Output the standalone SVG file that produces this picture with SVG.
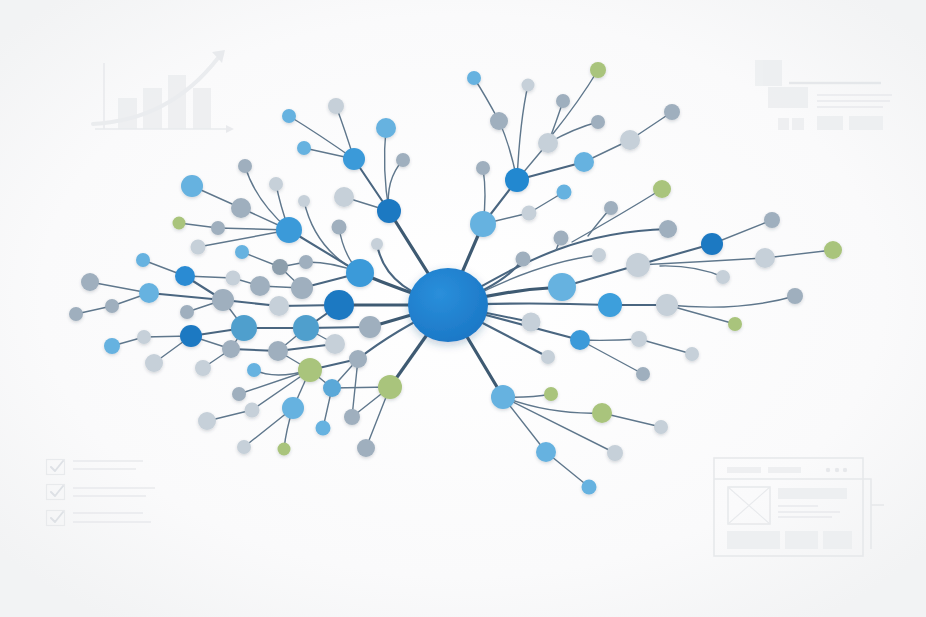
<svg xmlns="http://www.w3.org/2000/svg" width="926" height="617" viewBox="0 0 926 617">
<defs>
<radialGradient id="bg" cx="50%" cy="48%" r="65%">
<stop offset="0" stop-color="#ffffff"/>
<stop offset="0.7" stop-color="#fafafb"/>
<stop offset="1" stop-color="#f2f3f4"/>
</radialGradient>
<radialGradient id="hubg" cx="40%" cy="35%" r="70%">
<stop offset="0" stop-color="#2a8fdb"/>
<stop offset="1" stop-color="#1b77c6"/>
</radialGradient>
<filter id="sh" x="-50%" y="-50%" width="200%" height="200%">
<feDropShadow dx="0" dy="1.5" stdDeviation="1.6" flood-color="#3a4a5a" flood-opacity="0.2"/>
</filter>
<filter id="hsh" x="-50%" y="-50%" width="200%" height="200%">
<feDropShadow dx="0" dy="3" stdDeviation="4" flood-color="#1a4a7a" flood-opacity="0.28"/>
</filter>
<marker id="ah" viewBox="0 0 10 10" refX="5" refY="5" markerWidth="5" markerHeight="5" orient="auto">
<path d="M0 0 L10 5 L0 10 z" fill="#e6e8eb"/>
</marker>
</defs>
<style>
.e1{fill:none;stroke:#3e5a72;stroke-width:3.2;stroke-linecap:round}
.e2{fill:none;stroke:#4a6680;stroke-width:2.1;stroke-linecap:round}
.e3{fill:none;stroke:#5f778c;stroke-width:1.4;stroke-linecap:round}
.b1{fill:#3b9ad9}
.b2{fill:#1f79c2}
.lb{fill:#66b2e0}
.sb{fill:#4f9fcd}
.g1{fill:#9fafbe}
.dg{fill:#8d9eac}
.g2{fill:#c6d0d9}
.gn{fill:#a9c47b}
#nodes circle{filter:url(#sh)}
.dk{fill:#eceef0;stroke:none}
.dt{fill:none;stroke:#e6e8eb;stroke-width:1.6}
</style>
<rect width="926" height="617" fill="url(#bg)"/>

<g id="decor" opacity="0.85">
<g id="chart">
<rect class="dk" x="118" y="98" width="19" height="31"/>
<rect class="dk" x="143" y="88" width="19" height="41"/>
<rect class="dk" x="168" y="75" width="18" height="54"/>
<rect class="dk" x="193" y="88" width="18" height="41"/>
<path class="dt" d="M104 129 V63"/>
<path class="dt" d="M95 129 H230" marker-end="url(#ah)"/>
<path d="M93 124 Q170 120 218 58" fill="none" stroke="#e8eaed" stroke-width="4" stroke-linecap="round"/>
<path d="M212 52 L225 50 L222 63 z" fill="#e6e8eb"/>
</g>
<g id="layout">
<rect class="dk" x="755" y="60" width="27" height="26"/>
<rect class="dk" x="768" y="87" width="40" height="21"/>
<path d="M789 83 H881" stroke="#e2e5e8" stroke-width="2.5"/>
<path d="M817 95 H892 M817 101 H890 M817 107 H883" stroke="#e6e8eb" stroke-width="1.5"/>
<rect class="dk" x="778" y="118" width="11" height="12"/>
<rect class="dk" x="792" y="118" width="12" height="12"/>
<rect class="dk" x="817" y="116" width="26" height="14"/>
<rect class="dk" x="849" y="116" width="34" height="14"/>
</g>
<g id="checklist">
<rect x="46.5" y="459.5" width="18" height="15" fill="none" stroke="#e6e8eb" stroke-width="1.2"/>
<rect x="46.5" y="484.5" width="18" height="15" fill="none" stroke="#e6e8eb" stroke-width="1.2"/>
<rect x="46.5" y="510.5" width="18" height="15" fill="none" stroke="#e6e8eb" stroke-width="1.2"/>
<path d="M51 467 L55 471 L63 461 M51 492 L55 496 L63 486 M51 518 L55 522 L63 512" fill="none" stroke="#dadee3" stroke-width="2" stroke-linecap="round" stroke-linejoin="round"/>
<path d="M73 461 H143 M73 469 H136 M73 488 H155 M73 496 H146 M73 513 H143 M73 522 H151" stroke="#e6e8eb" stroke-width="1.3"/>
</g>
<g id="wireframe">
<rect x="714" y="458" width="149" height="98" fill="none" stroke="#e4e6e9" stroke-width="1.6"/>
<path d="M714 479 H871 V549 M871 505 H884" fill="none" stroke="#e4e6e9" stroke-width="1.6"/>
<rect class="dk" x="727" y="467" width="34" height="6"/>
<rect class="dk" x="768" y="467" width="33" height="6"/>
<circle cx="828" cy="470" r="2.2" fill="#e4e6e9"/>
<circle cx="837" cy="470" r="2.2" fill="#e4e6e9"/>
<circle cx="845" cy="470" r="2.2" fill="#e4e6e9"/>
<rect x="728" y="487" width="42" height="37" fill="none" stroke="#e4e6e9" stroke-width="1.5"/>
<path d="M728 487 L770 524 M770 487 L728 524" stroke="#e6e8eb" stroke-width="1.2"/>
<rect class="dk" x="778" y="488" width="69" height="11"/>
<path d="M778 506 H818 M778 512 H840 M778 517 H832" stroke="#e6e8eb" stroke-width="1.3"/>
<rect class="dk" x="727" y="531" width="53" height="18"/>
<rect class="dk" x="785" y="531" width="33" height="18"/>
<rect class="dk" x="823" y="531" width="29" height="18"/>
</g>
</g>

<g id="connectors">
<path class="e1" d="M448 305 L389 211"/>
<path class="e1" d="M448 305 Q400 290 360 273"/>
<path class="e1" d="M448 305 L339 305"/>
<path class="e1" d="M448 305 Q410 315 370 327"/>
<path class="e2" d="M448 305 Q395 330 358 359"/>
<path class="e1" d="M448 305 L390 387"/>
<path class="e1" d="M448 305 L483 224"/>
<path class="e1" d="M448 305 Q505 290 562 287"/>
<path class="e2" d="M448 305 Q530 302 610 305"/>
<path class="e2" d="M448 305 L531 322"/>
<path class="e2" d="M448 305 L580 340"/>
<path class="e2" d="M448 305 L548 357"/>
<path class="e1" d="M448 305 L503 397"/>
<path class="e2" d="M448 305 Q505 285 523 259"/>
<path class="e2" d="M448 305 C520 265 570 232 668 229"/>
<path class="e3" d="M588 236 Q600 220 611 208"/>
<path class="e3" d="M572 242 Q620 215 662 189"/>
<path class="e3" d="M556 250 L561 238"/>
<path class="e3" d="M470 298 Q540 262 599 255"/>
<path class="e2" d="M448 305 Q385 290 377 244"/>
<path class="e3" d="M339 227 Q343 255 360 273"/>
<path class="e3" d="M304 201 Q315 250 360 273"/>
<path class="e2" d="M289 230 L360 273"/>
<path class="e3" d="M306 262 Q335 262 360 273"/>
<path class="e2" d="M302 288 L360 273"/>
<path class="e3" d="M289 230 Q255 200 245 166"/>
<path class="e3" d="M289 230 Q280 205 276 184"/>
<path class="e3" d="M289 230 L241 208"/>
<path class="e3" d="M241 208 L192 186"/>
<path class="e3" d="M289 230 L218 228"/>
<path class="e3" d="M218 228 L179 223"/>
<path class="e3" d="M289 230 L198 247"/>
<path class="e3" d="M242 252 L280 267"/>
<path class="e3" d="M280 267 L306 262"/>
<path class="e3" d="M280 267 L302 288"/>
<path class="e3" d="M354 159 Q320 135 289 116"/>
<path class="e3" d="M354 159 L304 148"/>
<path class="e3" d="M354 159 Q345 130 336 106"/>
<path class="e2" d="M354 159 L389 211"/>
<path class="e3" d="M389 211 Q382 170 386 128"/>
<path class="e3" d="M389 211 Q385 180 403 160"/>
<path class="e3" d="M389 211 L344 197"/>
<path class="e3" d="M185 276 L143 260"/>
<path class="e3" d="M185 276 L233 278"/>
<path class="e3" d="M233 278 L260 286"/>
<path class="e3" d="M260 286 L302 288"/>
<path class="e2" d="M185 276 L223 300"/>
<path class="e3" d="M149 293 L90 282"/>
<path class="e3" d="M149 293 L112 306"/>
<path class="e3" d="M112 306 L76 314"/>
<path class="e2" d="M149 293 L223 300"/>
<path class="e3" d="M187 312 L223 300"/>
<path class="e2" d="M223 300 L279 306"/>
<path class="e2" d="M279 306 L339 305"/>
<path class="e3" d="M223 300 L244 328"/>
<path class="e2" d="M244 328 L191 336"/>
<path class="e2" d="M244 328 L306 328"/>
<path class="e3" d="M244 328 L231 349"/>
<path class="e3" d="M191 336 L144 337"/>
<path class="e3" d="M144 337 L112 346"/>
<path class="e3" d="M191 336 L154 363"/>
<path class="e3" d="M191 336 L231 349"/>
<path class="e3" d="M231 349 L203 368"/>
<path class="e2" d="M231 349 L278 351"/>
<path class="e3" d="M278 351 L306 328"/>
<path class="e2" d="M278 351 L335 344"/>
<path class="e3" d="M278 351 L310 370"/>
<path class="e2" d="M306 328 L339 305"/>
<path class="e2" d="M306 328 L370 327"/>
<path class="e3" d="M306 328 L335 344"/>
<path class="e3" d="M254 370 Q275 380 310 370"/>
<path class="e3" d="M310 370 L239 394"/>
<path class="e3" d="M310 370 L252 410"/>
<path class="e3" d="M252 410 L207 421"/>
<path class="e3" d="M310 370 L293 408"/>
<path class="e3" d="M310 370 L332 388"/>
<path class="e2" d="M310 370 L358 359"/>
<path class="e3" d="M332 388 L358 359"/>
<path class="e3" d="M332 388 L390 387"/>
<path class="e3" d="M332 388 L323 428"/>
<path class="e3" d="M293 408 L244 447"/>
<path class="e3" d="M293 408 Q286 430 284 449"/>
<path class="e3" d="M390 387 L352 417"/>
<path class="e3" d="M390 387 L366 448"/>
<path class="e3" d="M358 359 L352 417"/>
<path class="e2" d="M483 224 L517 180"/>
<path class="e3" d="M483 224 Q487 195 483 168"/>
<path class="e3" d="M483 224 L529 213"/>
<path class="e3" d="M529 213 L564 192"/>
<path class="e3" d="M517 180 Q510 145 499 121"/>
<path class="e3" d="M499 121 Q485 95 474 78"/>
<path class="e3" d="M517 180 Q520 120 528 85"/>
<path class="e3" d="M517 180 L548 143"/>
<path class="e3" d="M548 143 Q557 120 563 101"/>
<path class="e3" d="M548 143 Q575 128 598 122"/>
<path class="e3" d="M552 135 Q580 100 598 70"/>
<path class="e2" d="M517 180 L584 162"/>
<path class="e3" d="M584 162 L630 140"/>
<path class="e3" d="M630 140 L672 112"/>
<path class="e2" d="M562 287 L638 265"/>
<path class="e2" d="M638 265 L712 244"/>
<path class="e3" d="M712 244 L772 220"/>
<path class="e3" d="M638 265 Q700 262 765 258"/>
<path class="e3" d="M765 258 L833 250"/>
<path class="e3" d="M660 266 Q695 265 723 277"/>
<path class="e2" d="M610 305 L667 305"/>
<path class="e3" d="M667 305 Q740 312 795 296"/>
<path class="e3" d="M667 305 L735 324"/>
<path class="e3" d="M580 340 Q610 341 639 339"/>
<path class="e3" d="M639 339 L692 354"/>
<path class="e3" d="M580 340 L643 374"/>
<path class="e3" d="M503 397 Q530 398 551 394"/>
<path class="e3" d="M503 397 Q550 415 602 413"/>
<path class="e3" d="M602 413 L661 427"/>
<path class="e3" d="M503 397 L615 453"/>
<path class="e3" d="M503 397 L546 452"/>
<path class="e3" d="M546 452 L589 487"/>
</g>

<g id="nodes">
<g id="hub"><ellipse cx="448" cy="305" rx="40" ry="37" fill="url(#hubg)" filter="url(#hsh)"/></g>
<g id="n1"><circle cx="245" cy="166" r="7" class="g1"/></g>
<g id="n2"><circle cx="192" cy="186" r="11" class="lb"/></g>
<g id="n3"><circle cx="276" cy="184" r="7" class="g2"/></g>
<g id="n4"><circle cx="241" cy="208" r="10" class="g1"/></g>
<g id="n5"><circle cx="304" cy="201" r="6" class="g2"/></g>
<g id="n6"><circle cx="179" cy="223" r="6.5" class="gn"/></g>
<g id="n7"><circle cx="218" cy="228" r="7" class="g1"/></g>
<g id="n8"><circle cx="289" cy="230" r="13" class="b1"/></g>
<g id="n9"><circle cx="198" cy="247" r="7.5" class="g2"/></g>
<g id="n10"><circle cx="242" cy="252" r="7" class="lb"/></g>
<g id="n11"><circle cx="143" cy="260" r="7" class="lb"/></g>
<g id="n12"><circle cx="280" cy="267" r="8" class="dg"/></g>
<g id="n13"><circle cx="185" cy="276" r="10" fill="#2a8bd3"/></g>
<g id="n14"><circle cx="233" cy="278" r="7.5" class="g2"/></g>
<g id="n15"><circle cx="90" cy="282" r="9" class="g1"/></g>
<g id="n16"><circle cx="260" cy="286" r="10" class="g1"/></g>
<g id="n17"><circle cx="302" cy="288" r="11" class="g1"/></g>
<g id="n18"><circle cx="149" cy="293" r="10" class="lb"/></g>
<g id="n19"><circle cx="223" cy="300" r="11" class="g1"/></g>
<g id="n20"><circle cx="279" cy="306" r="10" class="g2"/></g>
<g id="n21"><circle cx="112" cy="306" r="7" class="g1"/></g>
<g id="n22"><circle cx="187" cy="312" r="7" class="g1"/></g>
<g id="n23"><circle cx="76" cy="314" r="7" class="g1"/></g>
<g id="n24"><circle cx="244" cy="328" r="13" class="sb"/></g>
<g id="n25"><circle cx="306" cy="328" r="13" class="sb"/></g>
<g id="n26"><circle cx="191" cy="336" r="11" class="b2"/></g>
<g id="n27"><circle cx="144" cy="337" r="7" class="g2"/></g>
<g id="n28"><circle cx="112" cy="346" r="8" class="lb"/></g>
<g id="n29"><circle cx="231" cy="349" r="9" class="g1"/></g>
<g id="n30"><circle cx="278" cy="351" r="10" class="g1"/></g>
<g id="n31"><circle cx="335" cy="344" r="10" class="g2"/></g>
<g id="n32"><circle cx="154" cy="363" r="9" class="g2"/></g>
<g id="n33"><circle cx="203" cy="368" r="8" class="g2"/></g>
<g id="n34"><circle cx="254" cy="370" r="7" class="lb"/></g>
<g id="n35"><circle cx="310" cy="370" r="12" class="gn"/></g>
<g id="n36"><circle cx="358" cy="359" r="9" class="g1"/></g>
<g id="n37"><circle cx="370" cy="327" r="11" class="g1"/></g>
<g id="n38"><circle cx="339" cy="305" r="15" class="b2"/></g>
<g id="n39"><circle cx="360" cy="273" r="14" class="b1"/></g>
<g id="n40"><circle cx="339" cy="227" r="7.5" class="g1"/></g>
<g id="n41"><circle cx="377" cy="244" r="6" class="g2"/></g>
<g id="n42"><circle cx="306" cy="262" r="7" class="g1"/></g>
<g id="n43"><circle cx="332" cy="388" r="9" fill="#5aa8d8"/></g>
<g id="n44"><circle cx="390" cy="387" r="12" class="gn"/></g>
<g id="n45"><circle cx="239" cy="394" r="7" class="g1"/></g>
<g id="n46"><circle cx="252" cy="410" r="7.5" class="g2"/></g>
<g id="n47"><circle cx="207" cy="421" r="9" class="g2"/></g>
<g id="n48"><circle cx="293" cy="408" r="11" class="lb"/></g>
<g id="n49"><circle cx="352" cy="417" r="8" class="g1"/></g>
<g id="n50"><circle cx="323" cy="428" r="7.5" class="lb"/></g>
<g id="n51"><circle cx="366" cy="448" r="9" class="g1"/></g>
<g id="n52"><circle cx="244" cy="447" r="7" class="g2"/></g>
<g id="n53"><circle cx="284" cy="449" r="6.5" class="gn"/></g>
<g id="n54"><circle cx="289" cy="116" r="7" class="lb"/></g>
<g id="n55"><circle cx="336" cy="106" r="8" class="g2"/></g>
<g id="n56"><circle cx="386" cy="128" r="10" class="lb"/></g>
<g id="n57"><circle cx="304" cy="148" r="7" class="lb"/></g>
<g id="n58"><circle cx="354" cy="159" r="11" class="b1"/></g>
<g id="n59"><circle cx="403" cy="160" r="7" class="g1"/></g>
<g id="n60"><circle cx="344" cy="197" r="10" class="g2"/></g>
<g id="n61"><circle cx="389" cy="211" r="12" class="b2"/></g>
<g id="n62"><circle cx="474" cy="78" r="7" class="lb"/></g>
<g id="n63"><circle cx="528" cy="85" r="6.5" class="g2"/></g>
<g id="n64"><circle cx="598" cy="70" r="8" class="gn"/></g>
<g id="n65"><circle cx="563" cy="101" r="7" class="g1"/></g>
<g id="n66"><circle cx="499" cy="121" r="9" class="g1"/></g>
<g id="n67"><circle cx="598" cy="122" r="7" class="g1"/></g>
<g id="n68"><circle cx="672" cy="112" r="8" class="g1"/></g>
<g id="n69"><circle cx="548" cy="143" r="10" class="g2"/></g>
<g id="n70"><circle cx="630" cy="140" r="10" class="g2"/></g>
<g id="n71"><circle cx="584" cy="162" r="10" class="lb"/></g>
<g id="n72"><circle cx="483" cy="168" r="7" class="g1"/></g>
<g id="n73"><circle cx="517" cy="180" r="12" fill="#2088d0"/></g>
<g id="n74"><circle cx="564" cy="192" r="7.5" class="lb"/></g>
<g id="n75"><circle cx="529" cy="213" r="7.5" class="g2"/></g>
<g id="n76"><circle cx="483" cy="224" r="13" class="lb"/></g>
<g id="n77"><circle cx="662" cy="189" r="9" class="gn"/></g>
<g id="n78"><circle cx="611" cy="208" r="7" class="g1"/></g>
<g id="n79"><circle cx="668" cy="229" r="9" class="g1"/></g>
<g id="n80"><circle cx="561" cy="238" r="7.5" class="g1"/></g>
<g id="n81"><circle cx="772" cy="220" r="8" class="g1"/></g>
<g id="n82"><circle cx="712" cy="244" r="11" class="b2"/></g>
<g id="n83"><circle cx="833" cy="250" r="9" class="gn"/></g>
<g id="n84"><circle cx="523" cy="259" r="7.5" class="g1"/></g>
<g id="n85"><circle cx="599" cy="255" r="7" class="g2"/></g>
<g id="n86"><circle cx="638" cy="265" r="12" class="g2"/></g>
<g id="n87"><circle cx="765" cy="258" r="10" class="g2"/></g>
<g id="n88"><circle cx="723" cy="277" r="7" class="g2"/></g>
<g id="n89"><circle cx="562" cy="287" r="14" class="lb"/></g>
<g id="n90"><circle cx="610" cy="305" r="12" fill="#3c9fdc"/></g>
<g id="n91"><circle cx="667" cy="305" r="11" class="g2"/></g>
<g id="n92"><circle cx="795" cy="296" r="8" class="g1"/></g>
<g id="n93"><circle cx="735" cy="324" r="7" class="gn"/></g>
<g id="n94"><circle cx="531" cy="322" r="9.5" class="g2"/></g>
<g id="n95"><circle cx="580" cy="340" r="10" class="b1"/></g>
<g id="n96"><circle cx="639" cy="339" r="8" class="g2"/></g>
<g id="n97"><circle cx="692" cy="354" r="7" class="g2"/></g>
<g id="n98"><circle cx="548" cy="357" r="7" class="g2"/></g>
<g id="n99"><circle cx="643" cy="374" r="7" class="g1"/></g>
<g id="n100"><circle cx="503" cy="397" r="12" class="lb"/></g>
<g id="n101"><circle cx="551" cy="394" r="7" class="gn"/></g>
<g id="n102"><circle cx="602" cy="413" r="10" class="gn"/></g>
<g id="n103"><circle cx="661" cy="427" r="7" class="g2"/></g>
<g id="n104"><circle cx="615" cy="453" r="8" class="g2"/></g>
<g id="n105"><circle cx="546" cy="452" r="10" class="lb"/></g>
<g id="n106"><circle cx="589" cy="487" r="7.5" class="lb"/></g>
</g>
</svg>
